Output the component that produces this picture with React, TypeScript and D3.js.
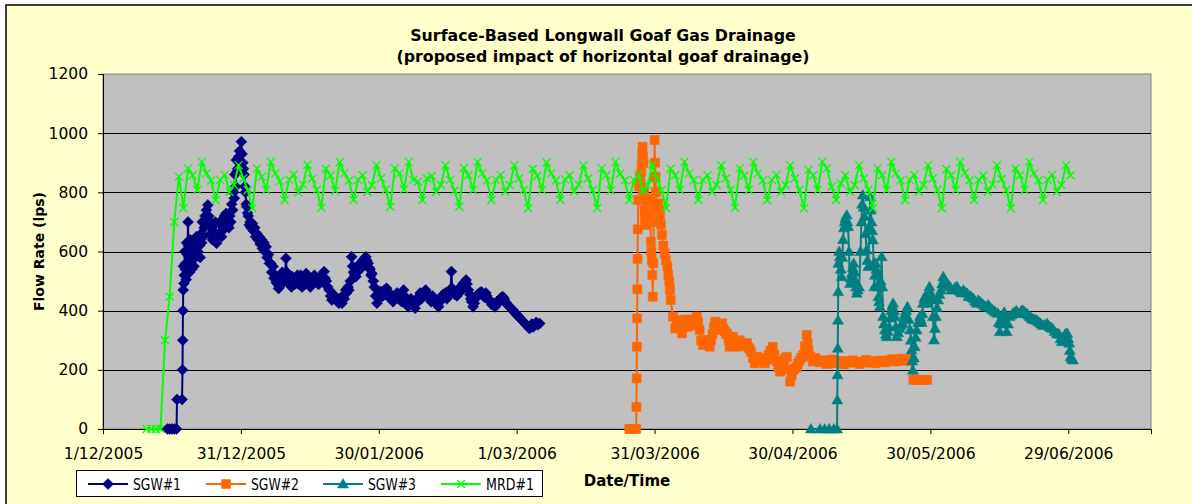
import * as d3 from "d3";
import { useEffect, useRef } from "react";

// days are counted from 1/12/2005
const startDate = new Date(2005, 11, 1);
const axisEndDay = 228;
const xTickDays = [0, 30, 60, 90, 120, 150, 180, 210];
const yTicks = [0, 200, 400, 600, 800, 1000, 1200];

const seriesNames = ["SGW#1", "SGW#2", "SGW#3", "MRD#1"];
const seriesColors = ["#000080", "#FF6600", "#008080", "#00FF00"];

// [day, flow lps]
const sgw1: [number, number][] = [
  [14, 0], [14.5, 0], [15, 0], [15.5, 0], [16, 0], [16.1, 100], [17.2, 100], [17.3, 200],
  [17.35, 300], [17.4, 400], [17.45, 470], [17.5, 550], [17.6, 492], [17.7, 520], [17.8, 600],
  [17.9, 540], [18, 560], [18.1, 505], [18.2, 630], [18.35, 590], [18.5, 700], [18.6, 620],
  [18.7, 580], [18.85, 530], [19, 640], [19.15, 600], [19.3, 540], [19.45, 570], [19.6, 610],
  [19.8, 550], [20, 580], [20.15, 620], [20.3, 650], [20.45, 590], [20.6, 600], [20.8, 640],
  [21, 620], [21.15, 580], [21.3, 660], [21.45, 630], [21.6, 700], [21.8, 650], [22, 680],
  [22.2, 720], [22.35, 690], [22.5, 740], [22.65, 710], [22.8, 757], [23, 720], [23.2, 700],
  [23.4, 660], [23.6, 680], [23.8, 640], [24, 650], [24.2, 690], [24.4, 700], [24.55, 660],
  [24.7, 628], [24.9, 650], [25.2, 660], [25.4, 700], [25.6, 690], [25.8, 650], [26, 670],
  [26.2, 700], [26.4, 720], [26.6, 690], [26.8, 729], [27, 700], [27.2, 690], [27.4, 680],
  [27.6, 720], [27.8, 700], [28, 760], [28.2, 740], [28.4, 800], [28.55, 780], [28.7, 860],
  [28.85, 820], [29, 909], [29.15, 870], [29.3, 880], [29.5, 920], [29.7, 940], [29.9, 900],
  [30.1, 971], [30.25, 930], [30.4, 900], [30.55, 880], [30.7, 860], [30.85, 820], [31, 800],
  [31.15, 760], [31.3, 751], [31.45, 730], [31.6, 720], [31.8, 690], [32, 700], [32.2, 680],
  [32.5, 695], [32.7, 670], [33, 680], [33.2, 650], [33.5, 660], [33.7, 640], [34, 650],
  [34.2, 625], [34.5, 640], [34.7, 610], [35, 630], [35.2, 600], [35.5, 616], [35.7, 580],
  [36, 590], [36.2, 560], [36.5, 560], [36.7, 530], [37, 549], [37.2, 510], [37.5, 520],
  [37.7, 495], [38, 490], [38.2, 475], [38.4, 481], [38.6, 510], [38.8, 500], [39, 530],
  [39.2, 510], [39.5, 500], [39.8, 577], [40, 530], [40.3, 520], [40.5, 490], [40.8, 500],
  [41, 480], [41.2, 515], [41.5, 500], [41.8, 490], [42, 510], [42.3, 520], [42.5, 490],
  [42.8, 500], [43, 520], [43.3, 480], [43.5, 500], [43.8, 510], [44, 490], [44.2, 526],
  [44.5, 505], [44.8, 500], [45.1, 480], [45.5, 492], [45.7, 510], [46, 520], [46.2, 500],
  [46.5, 510], [46.8, 490], [47, 490], [47.2, 510], [47.5, 520], [47.8, 500], [48.1, 532],
  [48.3, 510], [48.6, 500], [48.9, 480], [49.2, 470], [49.5, 450], [49.8, 436], [50.1, 455],
  [50.4, 450], [50.7, 440], [51, 440], [51.3, 425], [51.5, 430], [51.8, 445], [52, 425],
  [52.3, 450], [52.5, 440], [52.8, 470], [53, 460], [53.3, 480], [53.5, 470], [53.8, 500],
  [54.1, 582], [54.3, 550], [54.5, 530], [54.8, 520], [55, 515], [55.3, 530], [55.5, 540],
  [55.8, 555], [56, 560], [56.3, 545], [56.5, 570], [56.8, 575], [57, 560], [57.2, 582],
  [57.4, 570], [57.7, 560], [57.9, 545], [58.1, 540], [58.3, 520], [58.5, 526], [58.8, 500],
  [59, 480], [59.3, 450], [59.6, 425], [59.9, 450], [60.1, 440], [60.4, 465], [60.6, 459],
  [60.9, 450], [61.2, 470], [61.5, 455], [61.7, 476], [62, 465], [62.2, 460], [62.5, 440],
  [62.8, 450], [63.1, 430], [63.4, 440], [63.7, 455], [64, 460], [64.3, 440], [64.6, 450],
  [65, 430], [65.4, 470], [65.6, 450], [65.9, 430], [66.2, 420], [66.4, 413], [66.7, 430],
  [67, 440], [67.2, 425], [67.4, 420], [67.7, 430], [67.9, 408], [68.2, 425], [68.5, 440],
  [68.8, 450], [69, 460], [69.3, 440], [69.6, 455], [69.9, 465], [70.2, 470], [70.5, 460],
  [70.8, 450], [71.1, 440], [71.4, 430], [71.7, 450], [72, 440], [72.2, 430], [72.5, 425],
  [72.8, 420], [73, 413], [73.3, 430], [73.5, 440], [73.8, 450], [74, 455], [74.3, 445],
  [74.5, 460], [74.8, 440], [75, 450], [75.2, 460], [75.4, 470], [75.6, 470], [75.8, 532],
  [76, 475], [76.2, 470], [76.5, 455], [76.7, 460], [77, 450], [77.2, 470], [77.5, 460],
  [77.8, 480], [78, 470], [78.3, 490], [78.6, 495], [79, 504], [79.2, 490], [79.5, 470],
  [79.8, 455], [80, 440], [80.2, 430], [80.5, 413], [80.8, 425], [81, 440], [81.2, 450],
  [81.5, 455], [81.9, 460], [82.3, 464], [82.5, 455], [82.8, 450], [83, 445], [83.3, 460],
  [83.5, 450], [83.8, 440], [84, 435], [84.3, 430], [84.6, 420], [85, 425], [85.3, 413],
  [85.6, 420], [85.8, 430], [86.1, 435], [86.4, 440], [86.7, 445], [87, 447], [87.3, 440],
  [87.5, 430], [87.8, 425], [88, 420], [88.3, 415], [88.6, 410], [88.9, 405], [89.2, 402],
  [89.5, 395], [89.8, 390], [90.1, 385], [90.4, 380], [90.7, 375], [91, 370], [91.3, 365],
  [91.6, 360], [91.9, 355], [92.2, 350], [92.5, 345], [92.8, 340], [93, 348], [93.3, 355],
  [93.6, 345], [93.8, 350], [94.1, 358], [94.3, 360], [94.6, 352], [95, 357],
];

const sgw2: [number, number][] = [
  [114.5, 0], [115, 0], [115.5, 0], [116, 0], [116.05, 75], [116.1, 171], [116.15, 278],
  [116.2, 374], [116.25, 472], [116.3, 575], [116.35, 675], [116.45, 774], [116.6, 820],
  [116.8, 850], [117, 830], [117.1, 870], [117.2, 898], [117.3, 930], [117.4, 954],
  [117.5, 920], [117.6, 900], [117.7, 800], [117.8, 740], [117.9, 710], [118, 690],
  [118.15, 740], [118.3, 780], [118.45, 760], [118.6, 750], [118.8, 720], [119, 774],
  [119.1, 700], [119.2, 633], [119.3, 600], [119.4, 571], [119.5, 520], [119.6, 447],
  [119.7, 560], [119.8, 700], [119.9, 850], [120, 977], [120.1, 900], [120.2, 853],
  [120.3, 800], [120.4, 740], [120.6, 750], [120.8, 763], [121, 740], [121.2, 723],
  [121.4, 690], [121.6, 656], [121.9, 620], [122.2, 594], [122.5, 570], [122.8, 549],
  [123, 520], [123.2, 498], [123.35, 470], [123.5, 436], [124, 380], [124.5, 340],
  [124.8, 360], [125.1, 345], [125.5, 368], [125.8, 340], [126, 323], [126.4, 350],
  [126.8, 370], [127.2, 345], [127.6, 360], [128, 370], [128.4, 350], [128.8, 365],
  [129.2, 380], [129.5, 360], [129.8, 335], [130.1, 300], [130.5, 284], [130.8, 300],
  [131.1, 285], [131.5, 300], [131.8, 290], [132, 278], [132.3, 300], [132.6, 320],
  [132.9, 345], [133.2, 363], [133.5, 350], [133.8, 335], [134.1, 340], [134.4, 350],
  [134.7, 357], [135, 340], [135.3, 330], [135.6, 320], [135.8, 323], [136.1, 300],
  [136.3, 278], [136.6, 300], [137, 312], [137.3, 300], [137.6, 290], [137.9, 278],
  [138.2, 290], [138.5, 300], [138.8, 290], [139.1, 280], [139.4, 290], [139.7, 285],
  [140.1, 290], [140.4, 275], [140.7, 270], [141, 260], [141.4, 240], [141.8, 222],
  [142.1, 235], [142.4, 244], [142.8, 238], [143.2, 240], [143.6, 230], [144, 222],
  [144.4, 235], [144.8, 250], [145.2, 265], [145.7, 278], [146.1, 250], [146.5, 230],
  [146.9, 210], [147.3, 194], [147.6, 215], [148, 230], [148.4, 240], [148.8, 244],
  [149.1, 200], [149.5, 160], [149.8, 180], [150.2, 199], [150.5, 205], [150.9, 210],
  [151.2, 220], [151.5, 230], [151.9, 240], [152.3, 250], [152.7, 280], [153.1, 318],
  [153.3, 290], [153.5, 267], [153.9, 245], [154.4, 228], [154.7, 235], [155, 240],
  [155.5, 230], [156, 225], [156.7, 232], [157.4, 220], [158, 228], [158.6, 235],
  [159.2, 222], [159.9, 230], [160.5, 226], [161.2, 218], [161.8, 230], [162.5, 224],
  [163.2, 232], [163.9, 226], [164.6, 220], [165.3, 228], [166, 234], [166.7, 224],
  [167.4, 230], [168.1, 222], [168.8, 228], [169.5, 232], [170.2, 225], [170.9, 230],
  [171.6, 236], [172.3, 228], [173, 232], [173.7, 238], [174.4, 230], [175.1, 236],
  [175.8, 232], [176.3, 166], [177, 166], [177.8, 166], [178.5, 166], [179.3, 166],
];

const sgw3: [number, number][] = [
  [154, 0], [156, 0], [157, 0], [158, 0], [159, 0], [159.7, 0], [159.75, 98], [159.8, 183],
  [159.85, 273], [159.9, 368], [159.95, 464], [160, 560], [160.15, 600], [160.3, 582],
  [160.5, 540], [160.7, 515], [160.85, 580], [161, 640], [161.2, 680], [161.35, 700],
  [161.5, 712], [161.65, 690], [161.8, 723], [161.95, 700], [162.1, 684], [162.3, 600],
  [162.5, 492], [162.7, 510], [162.9, 526], [163.1, 545], [163.3, 560], [163.5, 530],
  [163.7, 500], [163.85, 480], [164, 459], [164.2, 470], [164.5, 480], [164.8, 600],
  [165, 700], [165.15, 760], [165.3, 791], [165.5, 750], [165.7, 718], [165.9, 660],
  [166.1, 605], [166.3, 570], [166.5, 549], [166.7, 680], [166.9, 785], [167.05, 740],
  [167.2, 700], [167.35, 670], [167.5, 639], [167.65, 560], [167.8, 481], [167.95, 520],
  [168.1, 560], [168.25, 540], [168.4, 526], [168.55, 480], [168.7, 447], [168.85, 430],
  [169, 413], [169.2, 500], [169.4, 582], [169.55, 480], [169.7, 380], [169.9, 355],
  [170.1, 335], [170.3, 320], [170.5, 312], [170.75, 330], [171, 346], [171.25, 375],
  [171.5, 400], [171.7, 415], [171.9, 425], [172.1, 400], [172.3, 380], [172.5, 345],
  [172.7, 312], [173, 325], [173.3, 340], [173.6, 350], [174, 357], [174.25, 375],
  [174.5, 390], [174.75, 400], [175, 413], [175.3, 370], [175.6, 335], [175.75, 300],
  [175.9, 267], [176.05, 230], [176.2, 199], [176.4, 240], [176.6, 278], [176.8, 310],
  [177, 335], [177.35, 360], [177.7, 380], [177.9, 370], [178.1, 360], [178.25, 390],
  [178.4, 425], [178.65, 440], [178.9, 450], [179.1, 440], [179.3, 425], [179.55, 455],
  [179.8, 481], [180.05, 460], [180.3, 440], [180.55, 380], [180.8, 301], [181, 340],
  [181.2, 380], [181.45, 410], [181.7, 436], [182, 455], [182.3, 470], [182.55, 490],
  [182.8, 515], [183.05, 505], [183.3, 500], [183.6, 492], [184, 485], [184.3, 480],
  [184.6, 470], [185, 470], [185.4, 478], [185.8, 481], [186.1, 470], [186.5, 465],
  [186.8, 460], [187.2, 470], [187.6, 462], [188, 459], [188.3, 448], [188.7, 450],
  [189, 445], [189.4, 440], [189.7, 432], [190.1, 425], [190.4, 435], [190.8, 430],
  [191.1, 425], [191.5, 420], [191.9, 415], [192.3, 413], [192.6, 420], [193, 410],
  [193.4, 405], [193.8, 400], [194.2, 395], [194.7, 391], [194.9, 360], [195.1, 329],
  [195.35, 355], [195.6, 380], [195.85, 390], [196.1, 395], [196.35, 360], [196.6, 329],
  [196.9, 355], [197.2, 380], [197.6, 385], [198, 391], [198.3, 395], [198.7, 400],
  [199, 392], [199.4, 390], [199.7, 398], [200, 402], [200.3, 398], [200.6, 395],
  [201, 390], [201.3, 385], [201.6, 380], [202, 375], [202.2, 372], [202.5, 370],
  [202.8, 369], [203.1, 368], [203.4, 364], [203.8, 360], [204.1, 355], [204.5, 350],
  [204.9, 353], [205.4, 357], [205.7, 350], [206, 345], [206.3, 342], [206.6, 340],
  [207, 330], [207.5, 323], [207.8, 322], [208, 320], [208.3, 305], [208.6, 295],
  [208.9, 310], [209.3, 320], [209.5, 322], [209.8, 323], [210, 305], [210.2, 290],
  [210.35, 265], [210.5, 244], [210.75, 238], [211, 233],
];

// MRD#1: one reading per day from day 9.5
const mrdStartDay = 9.5;
const mrdFlow = [
  0, 0, 0, 0, 300, 447, 700, 853,
  746, 881, 858, 808, 903, 864, 840, 774, 842, 859, 802, 825, 892, 847, 808,
  746, 881, 853, 808, 903, 864, 838, 774, 843, 860, 800, 826, 893, 846, 808,
  748, 880, 857, 806, 902, 865, 840, 775, 842, 858, 802, 824, 892, 848, 809,
  751, 881, 864, 810, 903, 842, 836, 774, 847, 855, 802, 825, 892, 842, 806,
  751, 882, 858, 808, 903, 864, 840, 774, 842, 859, 802, 825, 892, 847, 808,
  746, 880, 856, 808, 901, 864, 840, 775, 843, 858, 803, 826, 891, 847, 808,
  747, 881, 858, 807, 903, 863, 840, 774, 842, 859, 802, 825, 893, 846, 808,
  746, 880, 858, 808, 903, 864, 841, 774, 842, 858, 802, 825, 892, 847, 809,
  748, 881, 857, 808, 902, 864, 840, 773, 842, 859, 801, 825, 892, 847, 808,
  746, 876, 858, 808, 903, 881, 819, 774, 830, 858, 802, 825, 892, 847, 808,
  746, 881, 858, 808, 903, 864, 840, 774, 842, 859, 802, 825, 892, 847, 808,
  746, 878, 858, 808, 903, 866, 840, 774, 842, 857, 802, 826, 892, 845, 808,
  746, 881, 858, 808, 903, 864, 840, 774, 842, 859, 802, 825, 892, 858,
];

const diamond = "M0,-5.5L5.5,0L0,5.5L-5.5,0Z";
const square = "M-4.5,-4.5H4.5V4.5H-4.5Z";
const triangle = "M0,-5.5L5.5,4L-5.5,4Z";
const cross = "M-4,-4L4,4M4,-4L-4,4";
const markerPaths = [diamond, square, triangle, cross];

const App = () => {
  const svgRef = useRef<SVGSVGElement>(null);

  useEffect(() => {
    const width = 1192;
    const height = 504;
    const margin = { top: 74, right: 41, bottom: 75, left: 103 };
    const innerWidth = width - margin.left - margin.right;
    const innerHeight = height - margin.top - margin.bottom;
    const font = "DejaVu Sans, Verdana, sans-serif";

    const svg = d3.select(svgRef.current).attr("width", width).attr("height", height);
    svg.selectAll("*").remove();

    svg.append("rect").attr("width", width).attr("height", height).attr("fill", "#fff");
    svg
      .append("rect")
      .attr("x", 6)
      .attr("y", 5)
      .attr("width", width + 20)
      .attr("height", height + 20)
      .attr("fill", "#FFFFCC")
      .attr("stroke", "#000")
      .attr("stroke-width", 1.5);

    const g = svg.append("g").attr("transform", `translate(${margin.left},${margin.top})`);

    const x = d3.scaleLinear().domain([0, axisEndDay]).range([0, innerWidth]);
    const y = d3.scaleLinear().domain([0, 1200]).range([innerHeight, 0]);

    g.append("rect")
      .attr("width", innerWidth)
      .attr("height", innerHeight)
      .attr("fill", "#C0C0C0")
      .attr("stroke", "#808080");

    // gridlines
    g.selectAll(".grid")
      .data(yTicks.slice(1, -1))
      .join("line")
      .attr("x1", 0)
      .attr("x2", innerWidth)
      .attr("y1", (d) => Math.round(y(d)) + 0.5)
      .attr("y2", (d) => Math.round(y(d)) + 0.5)
      .attr("stroke", "#000")
      .attr("stroke-width", 1);

    const fmt = d3.timeFormat("%-d/%m/%Y");
    const xAxis = d3
      .axisBottom(x)
      .tickValues(xTickDays)
      .tickSize(5)
      .tickPadding(14)
      .tickFormat((d) => fmt(d3.timeDay.offset(startDate, d as number)));
    const yAxis = d3
      .axisLeft(y)
      .tickValues(yTicks)
      .tickSize(5)
      .tickPadding(10)
      .tickFormat(d3.format("d"));

    const xg = g.append("g").attr("transform", `translate(0,${innerHeight})`).call(xAxis);
    const yg = g.append("g").call(yAxis);
    [xg, yg].forEach((a) => {
      a.select(".domain").attr("stroke", "#000");
      a.selectAll("line").attr("stroke", "#000");
      a.selectAll("text")
        .attr("fill", "#000")
        .style("font-family", font)
        .style("font-size", "15.5px");
    });

    const line = d3
      .line<[number, number]>()
      .x((d) => x(d[0]))
      .y((d) => y(d[1]));

    const mrd: [number, number][] = mrdFlow.map((v, i) => [mrdStartDay + i, v]);
    const allSeries = [sgw1, sgw2, sgw3, mrd];

    allSeries.forEach((pts, i) => {
      const color = seriesColors[i];
      const sg = g.append("g");
      sg.append("path")
        .datum(pts)
        .attr("fill", "none")
        .attr("stroke", color)
        .attr("stroke-width", 2)
        .attr("stroke-linejoin", "round")
        .attr("d", line);
      sg.selectAll(".pt")
        .data(pts)
        .join("path")
        .attr("transform", (d) => `translate(${x(d[0])},${y(d[1])})`)
        .attr("d", markerPaths[i])
        .attr("fill", i === 3 ? "none" : color)
        .attr("stroke", color)
        .attr("stroke-width", i === 3 ? 1.3 : 0.5);
    });

    // titles, centred on the chart area
    const title = svg
      .append("text")
      .attr("text-anchor", "middle")
      .style("font-family", font)
      .style("font-weight", "bold")
      .style("font-size", "15.8px");
    title.append("tspan").attr("x", 603).attr("y", 41).text("Surface-Based Longwall Goaf Gas Drainage");
    title.append("tspan").attr("x", 603).attr("y", 62).text("(proposed impact of horizontal goaf drainage)");

    svg
      .append("text")
      .attr("transform", `translate(44,${margin.top + innerHeight / 2}) rotate(-90)`)
      .attr("text-anchor", "middle")
      .style("font-family", font)
      .style("font-weight", "bold")
      .style("font-size", "14px")
      .text("Flow Rate (lps)");

    svg
      .append("text")
      .attr("x", margin.left + innerWidth / 2)
      .attr("y", 486)
      .attr("text-anchor", "middle")
      .style("font-family", font)
      .style("font-weight", "bold")
      .style("font-size", "15px")
      .text("Date/Time");

    // legend
    const lg = svg.append("g");
    lg.append("rect")
      .attr("x", 76.5)
      .attr("y", 470.5)
      .attr("width", 466)
      .attr("height", 26)
      .attr("fill", "#fff")
      .attr("stroke", "#000");
    const legendX = [88, 206, 323, 441];
    seriesNames.forEach((name, i) => {
      const lx = legendX[i];
      lg.append("line")
        .attr("x1", lx)
        .attr("x2", lx + 40)
        .attr("y1", 484)
        .attr("y2", 484)
        .attr("stroke", seriesColors[i])
        .attr("stroke-width", 2);
      lg.append("path")
        .attr("transform", `translate(${lx + 20},484)`)
        .attr("d", markerPaths[i])
        .attr("fill", i === 3 ? "none" : seriesColors[i])
        .attr("stroke", seriesColors[i])
        .attr("stroke-width", i === 3 ? 1.3 : 0.5);
      lg.append("text")
        .attr("x", lx + 45)
        .attr("y", 490)
        .attr("textLength", 48)
        .attr("lengthAdjust", "spacingAndGlyphs")
        .style("font-family", font)
        .style("font-size", "15px")
        .text(name);
    });
  }, []);

  return <svg ref={svgRef} style={{ position: "absolute", left: 0, top: 0 }} />;
};

export default App;
